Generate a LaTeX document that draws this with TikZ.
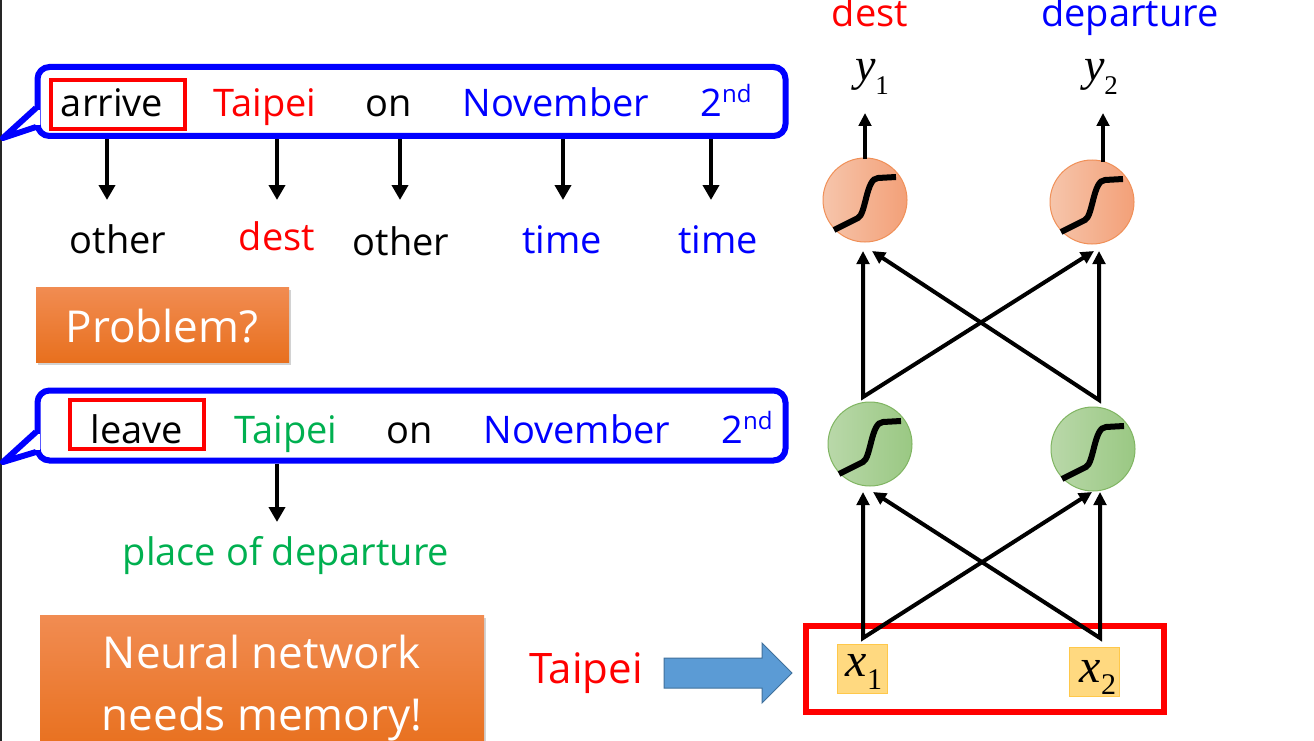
\documentclass[tikz,border=0pt]{standalone}
\usepackage{fontspec}
\setmainfont{Open Sans}
\newfontfamily\tnr{Liberation Serif}
\usetikzlibrary{arrows.meta,shadows}
\definecolor{cblue}{HTML}{0000FF}
\definecolor{tgreen}{HTML}{00B050}
\definecolor{oTop}{HTML}{F18C52}
\definecolor{oBot}{HTML}{E8701E}
\definecolor{ocL}{HTML}{F6C5AB}
\definecolor{ocR}{HTML}{F3A078}
\definecolor{ocB}{HTML}{F09058}
\definecolor{gcL}{HTML}{B9D8A9}
\definecolor{gcR}{HTML}{9AC883}
\definecolor{gcB}{HTML}{80B562}
\definecolor{xbF}{HTML}{FFD980}
\definecolor{xbB}{HTML}{FFC84A}
\definecolor{baF}{HTML}{5B9BD5}
\definecolor{baB}{HTML}{41719C}
\tikzset{
  word/.style={font=\fontsize{38}{38}\selectfont, inner sep=0pt, anchor=base},
  callout/.style={draw=cblue, line width=6pt, rounded corners=12pt, fill=white, inner sep=0pt},
  redbox/.style={draw=red, line width=4.5pt, inner sep=0pt},
  darr/.style={-{Triangle[length=15pt,width=16pt]}, line width=4.5pt},
  narr/.style={-{Triangle[length=13pt,width=12.5pt]}, line width=4pt},
  nvarr/.style={{Triangle[length=13pt,width=12.5pt]}-{Triangle[length=13pt,width=12.5pt]}, line width=4pt, line join=miter},
  obox/.style={rectangle, top color=oTop, bottom color=oBot, inner sep=0pt,
    drop shadow={opacity=0.35, shadow xshift=2pt, shadow yshift=-3pt}},
  otext/.style={text=white, font=\fontsize{44}{44}\selectfont, inner sep=0pt, anchor=base},
  ocirc/.style={circle, minimum size=84pt, inner sep=0pt, left color=ocL, right color=ocR, draw=ocB, line width=1pt},
  gcirc/.style={circle, minimum size=84pt, inner sep=0pt, left color=gcL, right color=gcR, draw=gcB, line width=1pt},
  xbox/.style={rectangle, minimum width=50pt, minimum height=49pt, inner sep=0pt, fill=xbF, draw=xbB, line width=1pt},
  sigm/.pic={\draw[line width=6pt] (-31,30) -- (-7,18) .. controls (1,14) and (1,-22) .. (13,-22) -- (31,-23);},
  mathlbl/.style={inner sep=0pt, anchor=base}
}
\begin{document}
\begin{tikzpicture}[x=1pt,y=-1pt]
\useasboundingbox (0,0) rectangle (1314,741);
\fill[white] (0,0) rectangle (1314,741);
\fill[black!85] (0,0) rectangle (2,741);

% ---------- first callout ----------
\node[callout, minimum width=748pt, minimum height=69pt] (cb1) at (411.5,101.5) {};
\fill[white] (33,110) rectangle (39.5,125);
\draw[cblue, line width=6pt, line join=round] (36,108) -- (3,138) -- (36,127);
\node[redbox, minimum width=134pt, minimum height=49pt] (rb1) at (118,104.5) {};
\node[word] (a1) at (112,117) {arrive};
\node[word, text=red] (a2) at (265,117) {Taipei};
\node[word] (a3) at (389,117) {on};
\node[word, text=cblue] (a4) at (556,117) {November};
\node[word, text=cblue] (a5) at (726,117) {2\raisebox{14pt}{\fontsize{24}{24}\selectfont nd}};

\coordinate (t1) at (107,200);
\coordinate (t2) at (277,200);
\coordinate (t3) at (400,200);
\coordinate (t4) at (563,200);
\coordinate (t5) at (711,200);
\foreach \t in {t1,t2,t3,t4,t5} \draw[darr] (cb1.south -| \t) -- (\t);

\node[word] (l1) at (118,253) {other};
\node[word, text=red] (l2) at (277,250) {dest};
\node[word] (l3) at (401,255) {other};
\node[word, text=cblue] (l4) at (562,253) {time};
\node[word, text=cblue] (l5) at (718,253) {time};

% ---------- Problem? ----------
\node[obox, minimum width=253pt, minimum height=75pt] (pb) at (162.5,324.5) {};
\node[otext] (pbt) at (162,342) {Problem?};

% ---------- second callout ----------
\node[callout, minimum width=748pt, minimum height=70pt] (cb2) at (411.5,425.5) {};
\fill[white] (33,434) rectangle (39.5,450);
\draw[cblue, line width=6pt, line join=round] (36,432) -- (3,462) -- (36,452);
\node[redbox, minimum width=134pt, minimum height=49pt] (rb2) at (137,424.5) {};
\node[word] (b1) at (137,443) {leave};
\node[word, text=tgreen] (b2) at (286,443) {Taipei};
\node[word] (b3) at (410,443) {on};
\node[word, text=cblue] (b4) at (577,443) {November};
\node[word, text=cblue] (b5) at (747,443) {2\raisebox{14pt}{\fontsize{24}{24}\selectfont nd}};
\coordinate (t6) at (277,522);
\draw[darr] (cb2.south -| t6) -- (t6);
\node[word, text=tgreen] (pod) at (286,565) {place of departure};

% ---------- Neural network box ----------
\node[obox, minimum width=444pt, minimum height=134pt] (nb) at (262,682) {};
\node[otext] (nbt1) at (262,668) {Neural network};
\node[otext] (nbt2) at (262,730) {needs memory!};

% ---------- Taipei input ----------
\node[inner sep=0pt, anchor=base, text=red, font=\fontsize{42}{42}\selectfont] (tin) at (586,683) {Taipei};
\draw[fill=baF, draw=baB, line width=1pt, line join=miter]
  (664,658) -- (762,658) -- (762,643) -- (792,673) -- (762,703) -- (762,688) -- (664,688) -- cycle;

% ---------- network ----------
\node[draw=red, line width=6pt, minimum width=358pt, minimum height=86pt, inner sep=0pt] (inbox) at (985,669) {};
\node[xbox] (xb1) at (862,668.5) {};
\node[xbox] (xb2) at (1094,671.5) {};
\node[mathlbl] (x1) at (864,676) {\tnr\fontsize{48}{48}\selectfont\itshape x\/\raisebox{-13pt}{\upshape\fontsize{30}{30}\selectfont 1}};
\node[mathlbl] (x2) at (1098,682) {\tnr\fontsize{48}{48}\selectfont\itshape x\/\raisebox{-12pt}{\upshape\fontsize{30}{30}\selectfont 2}};

\node[gcirc] (g1) at (870,444) {};
\node[gcirc] (g2) at (1093,449) {};
\pic at (g1.center) {sigm};
\pic at (g2.center) {sigm};

\node[ocirc] (o1) at (865,200) {};
\node[ocirc] (o2) at (1092,202) {};
\pic at (o1.center) {sigm};
\pic at (o2.center) {sigm};

% lower layer
\coordinate (x1t) at (863,638);
\coordinate (x2t) at (1100,638);
\coordinate (g1in) at (863,492);
\coordinate (g1x) at (873,492);
\coordinate (g2in) at (1100,492);
\coordinate (g2x) at (1092,492);
\draw[nvarr] (g1in) -- (x1t) -- (g2x);
\draw[nvarr] (g1x) -- (x2t) -- (g2in);

% upper layer
\coordinate (h1t) at (863,397);
\coordinate (h2t) at (1099,400);
\coordinate (o1in) at (863,251);
\coordinate (o1x) at (872,251);
\coordinate (o2in) at (1099,251);
\coordinate (o2x) at (1094,251);
\draw[nvarr] (o1in) -- (h1t) -- (o2x);
\draw[nvarr] (o1x) -- (h2t) -- (o2in);

% outputs
\coordinate (o1top) at (865,159);
\coordinate (o2top) at (1103,162);
\coordinate (y1t) at (865,113);
\coordinate (y2t) at (1103,113);
\draw[narr] (o1top) -- (y1t);
\draw[narr] (o2top) -- (y2t);

\node[mathlbl] (y1) at (872,81) {\tnr\fontsize{46}{46}\selectfont\itshape y\/\raisebox{-14pt}{\upshape\fontsize{27}{27}\selectfont 1}};
\node[mathlbl] (y2) at (1101,81) {\tnr\fontsize{46}{46}\selectfont\itshape y\/\raisebox{-14pt}{\upshape\fontsize{27}{27}\selectfont 2}};

\node[word, text=red] (d1) at (870,27) {dest};
\node[word, text=cblue] (d2) at (1130,27) {departure};
\end{tikzpicture}
\end{document}
